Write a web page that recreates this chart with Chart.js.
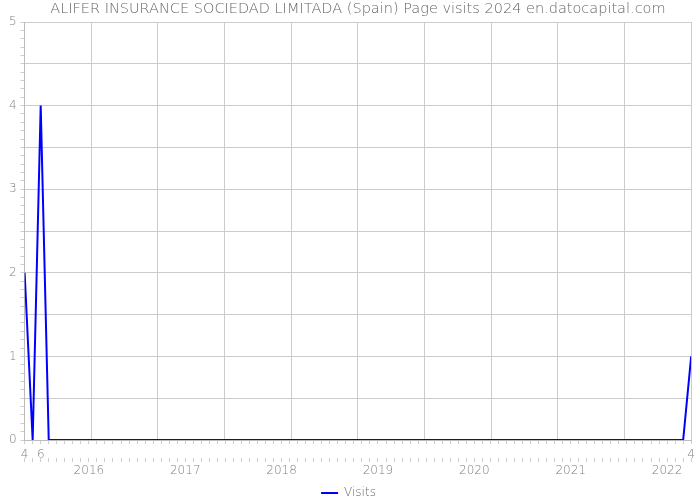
<!DOCTYPE html>
<html><head><meta charset="utf-8">
<script src="https://cdn.jsdelivr.net/npm/chart.js@4/dist/chart.umd.min.js"></script>
<style>html,body{margin:0;padding:0;background:#fff}#wrap{width:700px;height:500px}</style>
</head><body><div id="wrap"><canvas id="c"></canvas></div>
<script>
// Monthly visits, one value per month (84 months)
const visits = [2,0,4,0,0,0,0,0,0,0,
  0,0,0,0,0,0,0,0,0,0,
  0,0,0,0,0,0,0,0,0,0,
  0,0,0,0,0,0,0,0,0,0,
  0,0,0,0,0,0,0,0,0,0,
  0,0,0,0,0,0,0,0,0,0,
  0,0,0,0,0,0,0,0,0,0,
  0,0,0,0,0,0,0,0,0,0,
  0,0,0,1];
const monthTickLabels = {0:'4', 2:'6', 83:'4'};
const yearTickIndex = [8,20,32,44,56,68,80];
const yearTickLabels = ['2016','2017','2018','2019','2020','2021','2022'];
const yTickLabels = ['0','1','2','3','4','5'];

const N = visits.length;
const lastIdx = N - 1;
const points = visits.map((v,i)=>({x:i,y:v}));
const monthTicks = s => { s.ticks = visits.map((_,i)=>({value:i})); };
const FAMILY = "'DejaVu Sans', sans-serif";
const tickFont = {family:FAMILY, size:12, weight:'200', lineHeight:1};
const tickColor = '#808080';

new Chart(document.getElementById('c'), {
  type:'line',
  data:{datasets:[{label:'Visits', data:points, borderColor:'#0000ff', backgroundColor:'#0000ff',
    borderWidth:2, pointRadius:0, tension:0, fill:false}]},
  options:{
    responsive:true, maintainAspectRatio:false, animation:false,
    layout:{padding:{left:5,right:8,top:0,bottom:-9}},
    plugins:{
      title:{display:true, fullSize:false, text:'ALIFER INSURANCE SOCIEDAD LIMITADA (Spain) Page visits 2024 en.datocapital.com',
        color:'#666', font:{family:FAMILY, size:14.5, weight:'200', lineHeight:1.2}, padding:{top:1,bottom:3.6}},
      legend:{position:'bottom', labels:{usePointStyle:true, pointStyle:'line', pointStyleWidth:17,
        color:'#666', font:{family:FAMILY, size:12, weight:'200'}, padding:6}},
      tooltip:{enabled:false}
    },
    scales:{
      x:{type:'linear', min:0, max:lastIdx, weight:0,
        afterBuildTicks:s=>{ s.ticks = Array.from({length:11},(_,k)=>({value:k*lastIdx/10})); },
        afterFit:s=>{ s.height = 0; },
        grid:{color:'#ccc', drawTicks:false}, border:{color:'#bbb'}, ticks:{display:false}},
      xm:{type:'linear', position:'bottom', min:0, max:lastIdx, weight:1,
        afterBuildTicks:monthTicks,
        afterFit:s=>{ s.height = 18; },
        grid:{drawOnChartArea:false, tickLength:4, tickColor:'#ccc'}, border:{display:false},
        ticks:{autoSkip:false, maxRotation:0, padding:5, color:tickColor, font:tickFont,
          callback:v=> monthTickLabels[v] !== undefined ? monthTickLabels[v] : ''}},
      xy:{type:'linear', position:'bottom', min:0, max:lastIdx, weight:2,
        afterBuildTicks:monthTicks,
        afterFit:s=>{ s.height = 23; },
        grid:{drawOnChartArea:false, tickLength:4, tickColor:'#ccc'}, border:{display:false},
        ticks:{autoSkip:false, maxRotation:0, padding:3, color:tickColor, font:tickFont,
          callback:v=>{ const k = yearTickIndex.indexOf(v); return k>=0 ? yearTickLabels[k] : ''; }}},
      y:{min:0, max:5,
        afterBuildTicks:s=>{ s.ticks = Array.from({length:51},(_,k)=>({value:k/10})); },
        grid:{color:ctx=>{ const t = ctx.tick; if(!t) return '#ccc'; return Math.round(t.value*10)%5===0 ? '#ccc' : 'rgba(0,0,0,0)'; },
          tickColor:'#ccc', tickLength:4},
        border:{color:'#bbb'},
        ticks:{autoSkip:false, color:tickColor, font:{family:FAMILY, size:12, weight:'200'}, padding:4,
          callback:v=>{ const t = Math.round(v*10); return t%10===0 ? yTickLabels[t/10] : ''; }}}
    }
  }
});
</script></body></html>
